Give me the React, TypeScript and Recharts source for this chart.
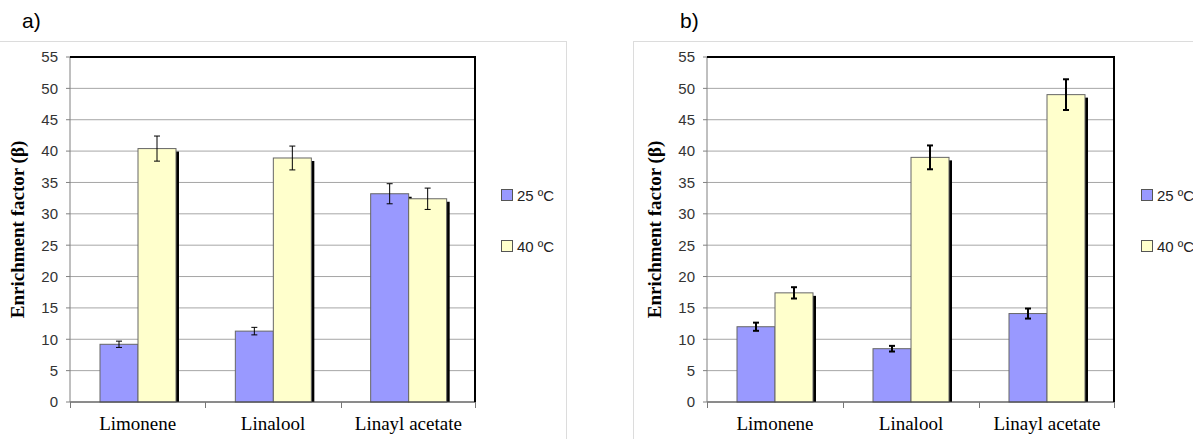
import { BarChart, Bar, XAxis, YAxis, CartesianGrid, ErrorBar, Legend } from 'recharts';

const categories = ['Limonene', 'Linalool', 'Linayl acetate'];
const series = ['25 ºC', '40 ºC'];
const colors = ['#9999ff', '#ffffcc'];
const yTicks = [0, 5, 10, 15, 20, 25, 30, 35, 40, 45, 50, 55];

// panel a)
const a25 = [9.2, 11.3, 33.2];
const a25err = [0.5, 0.6, 1.6];
const a40 = [40.4, 38.9, 32.4];
const a40err = [2.0, 1.9, 1.7];

// panel b)
const b25 = [12.0, 8.5, 14.1];
const b25err = [0.65, 0.45, 0.8];
const b40 = [17.4, 39.0, 49.0];
const b40err = [0.9, 1.9, 2.45];

const build = (v25: number[], e25: number[], v40: number[], e40: number[]) =>
  categories.map((name, i) => ({ name, t25: v25[i], e25: e25[i], t40: v40[i], e40: e40[i] }));

const dataA = build(a25, a25err, a40, a40err);
const dataB = build(b25, b25err, b40, b40err);

const TOP = 57;
const BOTTOM = 37;
const H = 439;

const ShadowBar = (props: any) => {
  const { x, y, width, height, fill } = props;
  if (!height || height <= 0) return null;
  return (
    <g>
      <rect x={x + 3} y={y + 3} width={width} height={Math.max(height - 3, 0)} fill="#000" />
      <rect x={x} y={y} width={width} height={height} fill={fill} stroke="#666" strokeWidth={1} />
    </g>
  );
};

const LegendBox = (props: any) => {
  const items = props.payload || [];
  return (
    <div style={{ fontFamily: 'Liberation Sans, Arial, sans-serif', fontSize: 15, color: '#222' }}>
      {items.map((it: any, i: number) => (
        <div key={i} style={{ display: 'flex', alignItems: 'center', height: 20, marginBottom: i === 0 ? 31 : 0 }}>
          <span style={{ display: 'inline-block', width: 10, height: 10, background: it.color, border: '1px solid #555', marginRight: 4 }} />
          <span>{it.value}</span>
        </div>
      ))}
    </div>
  );
};

function Panel({ data, width, marginLeft, marginRight, legendLeft, errWidth }: any) {
  const plotLeft = marginLeft + 70;
  const plotRight = width - marginRight;
  return (
    <div style={{ position: 'relative', width, height: H }}>
      <BarChart
        width={width}
        height={H}
        data={data}
        margin={{ top: TOP, right: marginRight, bottom: BOTTOM - 30, left: marginLeft }}
        barGap={0}
        barSize={38}
      >
        <CartesianGrid vertical={false} stroke="#a6a6a6" />
        <XAxis
          dataKey="name"
          height={30}
          tickLine={false}
          axisLine={{ stroke: '#444' }}
          tickMargin={9}
          tick={{ fill: '#000', fontSize: 19, fontFamily: 'Liberation Serif, Times New Roman, serif' }}
        />
        <YAxis
          width={70}
          domain={[0, 55]}
          ticks={yTicks}
          interval={0}
          tickSize={4}
          tickMargin={8}
          axisLine={{ stroke: '#808080' }}
          tickLine={{ stroke: '#808080' }}
          tick={{ fill: '#333', fontSize: 15, fontFamily: 'Liberation Sans, Arial, sans-serif' }}
          label={{
            value: 'Enrichment factor (β)',
            angle: -90,
            position: 'insideLeft',
            offset: 17,
            style: { textAnchor: 'middle', fontWeight: 'bold', fontSize: 19, fill: '#000', fontFamily: 'Liberation Serif, Times New Roman, serif' },
          }}
        />
        <Legend
          layout="vertical"
          align="center"
          verticalAlign="middle"
          wrapperStyle={{ left: legendLeft, top: 185, width: 70 }}
          content={LegendBox}
        />
        <Bar dataKey="t25" name={series[0]} fill={colors[0]} shape={ShadowBar} isAnimationActive={false}>
          <ErrorBar dataKey="e25" width={3} stroke="#000" strokeWidth={errWidth} />
        </Bar>
        <Bar dataKey="t40" name={series[1]} fill={colors[1]} shape={ShadowBar} isAnimationActive={false}>
          <ErrorBar dataKey="e40" width={3} stroke="#000" strokeWidth={errWidth} />
        </Bar>
      </BarChart>
      {/* plot frame: black top and right edges, tick marks at category boundaries */}
      <div
        style={{
          position: 'absolute',
          left: plotLeft,
          top: TOP - 1,
          width: plotRight - plotLeft,
          height: H - TOP - BOTTOM + 1,
          borderTop: '2px solid #000',
          borderRight: '2px solid #000',
          boxSizing: 'border-box',
          pointerEvents: 'none',
        }}
      />
      {[0, 1, 2, 3].map((k) => (
        <div
          key={k}
          style={{
            position: 'absolute',
            left: plotLeft + ((plotRight - plotLeft) * k) / 3 - (k === 3 ? 1 : 0),
            top: H - BOTTOM,
            width: 1,
            height: 6,
            background: '#777',
          }}
        />
      ))}
    </div>
  );
}

export default function App() {
  const title = { position: 'absolute' as const, fontFamily: 'Liberation Sans, Arial, sans-serif', fontSize: 21, color: '#000', top: 9 };
  return (
    <div style={{ position: 'absolute', left: 0, top: 0, width: 1193, height: 439, background: '#fff', overflow: 'hidden' }}>
      <div style={{ ...title, left: 22 }}>a)</div>
      <div style={{ ...title, left: 680 }}>b)</div>
      <div style={{ position: 'absolute', left: 0, top: 41, width: 566, height: 420, borderTop: '1px solid #dcdcdc', borderRight: '1px solid #dcdcdc' }} />
      <div style={{ position: 'absolute', left: 633, top: 41, width: 600, height: 420, borderTop: '1px solid #dcdcdc', borderLeft: '1px solid #dcdcdc' }} />
      <div style={{ position: 'absolute', left: 0, top: 0 }}>
        <Panel data={dataA} width={566} marginLeft={0} marginRight={90} legendLeft={501} errWidth={1} />
      </div>
      <div style={{ position: 'absolute', left: 600, top: 0 }}>
        <Panel data={dataB} width={593} marginLeft={37} marginRight={78} legendLeft={541} errWidth={2} />
      </div>
    </div>
  );
}
